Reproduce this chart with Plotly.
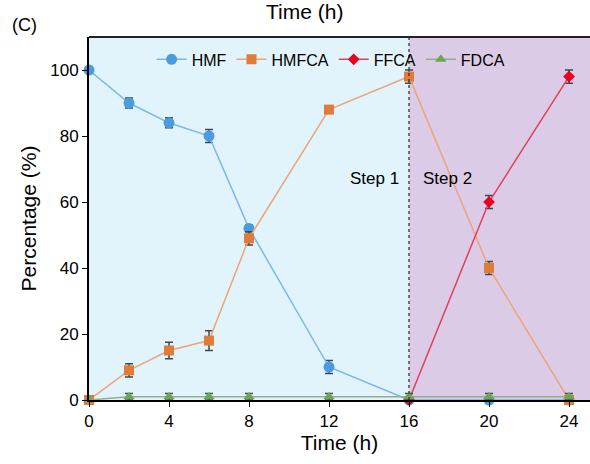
import plotly.graph_objects as go

time = [0, 2, 4, 6, 8, 12, 16, 20, 24]
hmf = [100, 90, 84, 80, 52, 10, 0, 0, 0]
hmf_err = [0, 1.5, 1.5, 2, 1, 2, 0, 1, 0]
hmfca = [0, 9, 15, 18, 49, 88, 98, 40, 0]
hmfca_err = [0, 2, 2.5, 3, 2, 0, 2, 2, 1]
ffca_time = [16, 20, 24]
ffca = [0, 60, 98]
ffca_err = [0, 2, 2]
fdca = [0, 1, 1, 1, 1, 1, 1, 1, 1]
fdca_err = [0, 1, 1, 1, 1, 1, 1, 1, 1]
xticks = [0, 4, 8, 12, 16, 20, 24]
yticks = [0, 20, 40, 60, 80, 100]

FONT = "Liberation Sans, Arial, sans-serif"
ERRC = "#3d4a52"

fig = go.Figure()

def add(name, x, y, err, line_c, mark_c, symbol, size):
    fig.add_trace(go.Scatter(
        x=x, y=y, name=name, mode="lines+markers",
        line=dict(color=line_c, width=1.5),
        marker=dict(color=mark_c, symbol=symbol, size=size),
        error_y=dict(type="data", array=err, color=ERRC, thickness=1.5, width=4),
        cliponaxis=False,
    ))

add("HMF", time, hmf, hmf_err, "#7ab8e8", "#4a9be0", "circle", 11)
add("HMFCA", time, hmfca, hmfca_err, "#e8a67a", "#e07b39", "square", 10)
add("FFCA", ffca_time, ffca, ffca_err, "#e0405a", "#e8001c", "diamond", 9)
add("FDCA", time, fdca, fdca_err, "#93ad88", "#6aa84f", "triangle-up", 10)

fig.add_shape(type="rect", xref="x", yref="paper", x0=0, x1=16, y0=0, y1=1,
              fillcolor="#e2f4fb", line_width=0, layer="below")
fig.add_shape(type="rect", xref="x", yref="paper", x0=16, x1=26, y0=0, y1=1,
              fillcolor="#dccbe6", line_width=0, layer="below")
fig.add_shape(type="line", xref="x", yref="paper", x0=16, x1=16, y0=0, y1=1,
              line=dict(color="#333333", width=1.3, dash="dot"))
fig.add_shape(type="line", xref="paper", yref="paper", x0=0, x1=1, y0=1, y1=1,
              line=dict(color="#222222", width=2))

fig.update_layout(
    width=590, height=464,
    margin=dict(l=89, r=0, t=37, b=64),
    paper_bgcolor="white", plot_bgcolor="white",
    font=dict(family=FONT, color="black", size=17),
    showlegend=True,
    legend=dict(orientation="h", x=0.125, y=0.985, xanchor="left", yanchor="top",
                bgcolor="rgba(0,0,0,0)", font=dict(size=16), itemwidth=30,
                tracegroupgap=0),
    annotations=[
        dict(x=-0.158, y=1.033, xref="paper", yref="paper", text="(C)", showarrow=False,
             xanchor="left", yanchor="middle", font=dict(size=18, color="black", family=FONT)),
        dict(x=0.431, y=1.069, xref="paper", yref="paper", text="Time (h)", showarrow=False,
             xanchor="center", yanchor="middle", font=dict(size=21, color="black", family=FONT)),
        dict(x=15.6, y=67, xref="x", yref="y", text="Step 1", showarrow=False,
             xanchor="right", font=dict(size=17, color="black", family=FONT)),
        dict(x=16.6, y=67, xref="x", yref="y", text="Step 2", showarrow=False,
             xanchor="left", font=dict(size=17, color="black", family=FONT)),
    ],
    xaxis=dict(range=[0, 25.05], tickvals=xticks, ticks="outside", ticklen=5,
               tickcolor="black", showgrid=False, zeroline=False, automargin=False,
               showline=True, linecolor="black", linewidth=2, mirror=False,
               title=dict(text="Time (h)", font=dict(size=21), standoff=4),
               tickfont=dict(size=17)),
    yaxis=dict(range=[0, 110], tickvals=yticks, ticks="outside", ticklen=5,
               tickcolor="black", showgrid=False, zeroline=False, automargin=False,
               showline=True, linecolor="black", linewidth=2,
               title=dict(text="Percentage (%)", font=dict(size=21), standoff=8),
               tickfont=dict(size=17)),
)

fig.write_html("out.html", config={"displayModeBar": False},
               post_script="document.body.style.margin='0';document.body.style.overflow='hidden';")
